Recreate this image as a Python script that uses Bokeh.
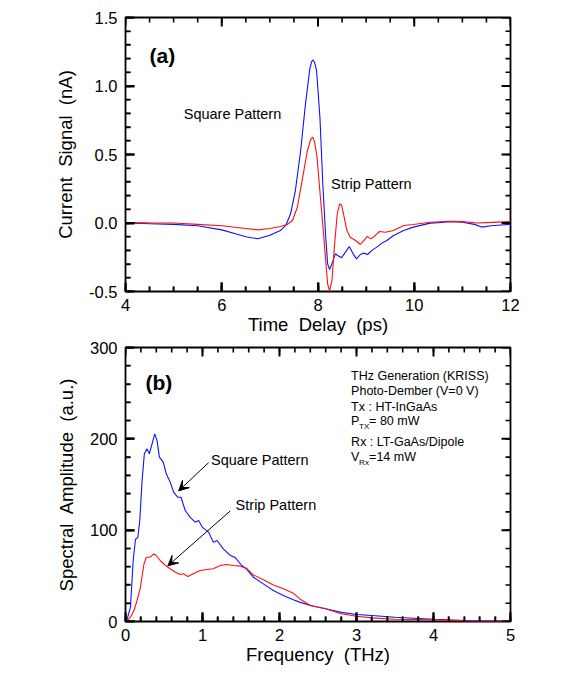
from bokeh.plotting import figure
from bokeh.layouts import column
from bokeh.models import (Range1d, LinearAxis, FixedTicker, Label, Arrow,
                          VeeHead, NumeralTickFormatter)
from bokeh.embed import file_html
from bokeh.resources import INLINE

# ---------------- data: panel (a) ----------------
t_square = [4.0, 4.5, 5.0, 5.5, 6.0, 6.25, 6.5, 6.75, 7.0, 7.22, 7.33, 7.43, 7.53, 7.64, 7.74,
            7.83, 7.87, 7.90, 7.93, 7.97, 8.04, 8.10, 8.16, 8.20, 8.24, 8.29, 8.36, 8.41, 8.49,
            8.57, 8.65, 8.73, 8.80, 8.88, 8.95, 9.03, 9.12, 9.22, 9.33, 9.43, 9.57, 9.78, 9.98,
            10.33, 10.5, 10.75, 11.0, 11.25, 11.4, 11.6, 11.8, 12.0]
i_square = [0.0, -0.005, -0.01, -0.02, -0.05, -0.075, -0.10, -0.115, -0.09, -0.055, -0.018,
            0.067, 0.237, 0.529, 0.87, 1.125, 1.18, 1.19, 1.17, 1.113, 0.772, 0.286, -0.10,
            -0.298, -0.34, -0.298, -0.225, -0.237, -0.254, -0.213, -0.172, -0.225, -0.262, -0.23,
            -0.22, -0.23, -0.20, -0.176, -0.147, -0.128, -0.091, -0.055, -0.030, -0.001, 0.003,
            0.01, 0.005, -0.01, -0.03, -0.02, -0.015, -0.01]
t_strip = [4.0, 4.5, 5.0, 5.5, 6.0, 6.5, 6.75, 7.0, 7.22, 7.36, 7.47, 7.57, 7.67, 7.78, 7.85,
           7.89, 7.93, 7.98, 8.05, 8.11, 8.16, 8.20, 8.24, 8.29, 8.34, 8.40, 8.45, 8.49, 8.53,
           8.60, 8.67, 8.78, 8.88, 8.95, 9.02, 9.10, 9.19, 9.28, 9.40, 9.57, 9.78, 9.98, 10.33,
           10.75, 11.0, 11.3, 11.5, 12.0]
i_strip = [0.003, 0.001, 0.0, -0.01, -0.02, -0.04, -0.05, -0.04, -0.026, -0.011, 0.018, 0.115,
           0.31, 0.529, 0.61, 0.628, 0.59, 0.48, 0.188, -0.055, -0.274, -0.444, -0.498, -0.42,
           -0.176, 0.067, 0.14, 0.13, 0.067, -0.055, -0.104, -0.128, -0.157, -0.128, -0.099,
           -0.116, -0.091, -0.062, -0.067, -0.055, -0.018, -0.011, 0.005, 0.013, 0.01, 0.0,
           0.003, 0.01]

# ---------------- data: panel (b) ----------------
f_square = [0, 0.02, 0.065, 0.10, 0.13, 0.16, 0.185, 0.215, 0.245, 0.28, 0.31, 0.345, 0.38, 0.41,
            0.44, 0.49, 0.53, 0.58, 0.625, 0.68, 0.72, 0.776, 0.84, 0.905, 0.95, 1.0, 1.08, 1.14,
            1.19, 1.27, 1.36, 1.42, 1.51, 1.57, 1.66, 1.79, 1.92, 2.05, 2.18, 2.26, 2.4, 2.6, 2.8,
            3.0, 3.2, 3.5, 4.0, 4.5, 5.0]
a_square = [0, 2, 16, 67, 90, 92, 110, 154, 183.6, 189, 183.6, 194.5, 205.5, 198, 180, 174.5,
            161.7, 152.6, 141.6, 136, 136, 121.5, 114, 108.8, 110.6, 103, 97.8, 86.9, 88.7, 79.6,
            72.3, 70.4, 61.3, 57.7, 48.5, 41.2, 34, 28.5, 23.7, 21.2, 17.5, 14, 10, 7.7, 6.5, 4.7,
            2.5, 0.7, 0.3]
f_strip = [0, 0.02, 0.065, 0.11, 0.15, 0.19, 0.24, 0.27, 0.315, 0.37, 0.40, 0.45, 0.52, 0.58,
           0.65, 0.71, 0.75, 0.81, 0.88, 0.97, 1.06, 1.14, 1.23, 1.31, 1.40, 1.49, 1.57, 1.66,
           1.79, 1.92, 2.05, 2.18, 2.26, 2.4, 2.6, 2.8, 3.0, 3.2, 3.5, 4.0, 4.5, 5.0]
a_strip = [0, 1, 4.7, 12, 23, 35.8, 63, 70.4, 70.4, 74, 72.3, 66.8, 61.3, 57.7, 54, 51.5, 52.2,
           49.3, 52.2, 55.8, 56.9, 57.7, 61.3, 62.4, 61.3, 60.6, 58.4, 51, 45.6, 40, 35.8, 31, 25,
           17.5, 14, 8.4, 5.8, 4, 2.5, 1.8, 0.4, 0]

# tick definitions
a_xticks = [4, 6, 8, 10, 12]
a_xminor = [4 + 0.5 * k for k in range(17)]
a_yticks = [-0.5, 0.0, 0.5, 1.0, 1.5]
a_yminor = [round(-0.5 + 0.1 * k, 2) for k in range(21)]
b_xticks = [0, 1, 2, 3, 4, 5]
b_xminor = [round(0.2 * k, 2) for k in range(26)]
b_yticks = [0, 100, 200, 300]
b_yminor = [20 * k for k in range(16)]

info_lines = ["THz Generation (KRISS)", "Photo-Dember (V=0 V)", "Tx : HT-InGaAs"]

FONT = "Liberation Sans"
BLUE = "#1010ff"
RED = "#ff1010"
FW, FH = 385, 274          # frame size in px
MAJ, MIN = 9, 5            # tick lengths in px


def style_axis(ax, ticks, minor, fmt):
    ax.ticker = FixedTicker(ticks=ticks, minor_ticks=minor)
    ax.major_tick_in = MAJ
    ax.major_tick_out = 0
    ax.minor_tick_in = MIN
    ax.minor_tick_out = 0
    ax.major_tick_line_width = 2
    ax.minor_tick_line_width = 1.6
    ax.major_tick_line_color = "black"
    ax.minor_tick_line_color = "black"
    ax.axis_line_color = None
    ax.major_label_text_font = FONT
    ax.major_label_text_font_size = "16.5px"
    ax.major_label_text_color = "black"
    ax.axis_label_text_font = FONT
    ax.axis_label_text_font_size = "18.5px"
    ax.axis_label_text_font_style = "normal"
    ax.axis_label_text_color = "black"
    if fmt:
        ax.formatter = NumeralTickFormatter(format=fmt)


def add_ticks(p, xr, yr, xt, xm, yt, ym):
    sx = (xr[1] - xr[0]) / FW   # data units per px
    sy = (yr[1] - yr[0]) / FH
    for ticks, ln, lw in ((xt, MAJ, 2.0), (xm, MIN, 1.6)):
        n = len(ticks)
        p.segment(x0=list(ticks), y0=[yr[0]] * n, x1=list(ticks), y1=[yr[0] + ln * sy] * n,
                  line_color="black", line_width=lw)
        p.segment(x0=list(ticks), y0=[yr[1]] * n, x1=list(ticks), y1=[yr[1] - ln * sy] * n,
                  line_color="black", line_width=lw)
    for ticks, ln, lw in ((yt, MAJ, 2.0), (ym, MIN, 1.6)):
        n = len(ticks)
        p.segment(x0=[xr[0]] * n, y0=list(ticks), x1=[xr[0] + ln * sx] * n, y1=list(ticks),
                  line_color="black", line_width=lw)
        p.segment(x0=[xr[1]] * n, y0=list(ticks), x1=[xr[1] - ln * sx] * n, y1=list(ticks),
                  line_color="black", line_width=lw)


def make_fig(xr, yr, height, top_border, bottom_border):
    p = figure(width=568, height=height,
               x_range=Range1d(*xr), y_range=Range1d(*yr),
               output_backend="svg", toolbar_location=None,
               x_axis_location=None, y_axis_location=None,
               min_border_left=125, min_border_right=58,
               min_border_top=top_border, min_border_bottom=bottom_border)
    p.grid.visible = False
    p.outline_line_color = "black"
    p.outline_line_width = 1.8
    return p


# ---------------- panel (a) ----------------
A_X = (4, 12)
A_Y = (-0.5, 1.5)
p1 = make_fig(A_X, A_Y, 337, 17, 46)
xb = LinearAxis(axis_label="Time\u00a0 Delay\u00a0 (ps)")
style_axis(xb, a_xticks, a_xminor, None)
xb.major_label_standoff = 7
xb.axis_label_standoff = 0
yl = LinearAxis(axis_label="Current\u00a0 Signal\u00a0 (nA)")
style_axis(yl, a_yticks, a_yminor, "0.0")
yl.major_label_standoff = 8
yl.axis_label_standoff = 10
p1.add_layout(xb, "below")
p1.add_layout(yl, "left")

p1.line(t_square, i_square, line_color=BLUE, line_width=1.1)
p1.line(t_strip, i_strip, line_color=RED, line_width=1.1)
add_ticks(p1, A_X, A_Y, a_xticks, a_xminor, a_yticks, a_yminor)

p1.add_layout(Label(x=4.5, y=1.22, text="(a)", text_font=FONT, text_font_size="21px",
                    text_font_style="bold", text_baseline="middle", text_color="black"))
p1.add_layout(Label(x=5.21, y=0.795, text="Square Pattern", text_font=FONT,
                    text_font_size="14.5px", text_baseline="middle", text_color="black"))
p1.add_layout(Label(x=8.27, y=0.285, text="Strip Pattern", text_font=FONT,
                    text_font_size="14.5px", text_baseline="middle", text_color="black"))

# ---------------- panel (b) ----------------
B_X = (0, 5)
B_Y = (0, 300)
p2 = make_fig(B_X, B_Y, 339, 10, 55)
xb2 = LinearAxis(axis_label="Frequency\u00a0 (THz)")
style_axis(xb2, b_xticks, b_xminor, None)
xb2.major_label_standoff = 7
xb2.axis_label_standoff = 0
yl2 = LinearAxis(axis_label="Spectral\u00a0 Amplitude\u00a0 (a.u.)")
style_axis(yl2, b_yticks, b_yminor, None)
yl2.major_label_standoff = 8
yl2.axis_label_standoff = 10
p2.add_layout(xb2, "below")
p2.add_layout(yl2, "left")

p2.line(f_square, a_square, line_color=BLUE, line_width=1.1)
p2.line(f_strip, a_strip, line_color=RED, line_width=1.1)
add_ticks(p2, B_X, B_Y, b_xticks, b_xminor, b_yticks, b_yminor)

p2.add_layout(Label(x=0.26, y=262, text="(b)", text_font=FONT, text_font_size="21px",
                    text_font_style="bold", text_baseline="middle", text_color="black"))
p2.add_layout(Label(x=1.11, y=177, text="Square Pattern", text_font=FONT,
                    text_font_size="14.5px", text_baseline="middle", text_color="black"))
p2.add_layout(Label(x=1.43, y=127.6, text="Strip Pattern", text_font=FONT,
                    text_font_size="14.5px", text_baseline="middle", text_color="black"))
p2.add_layout(Arrow(x_start=1.08, y_start=174, x_end=0.69, y_end=143, line_width=1,
                    line_color="black",
                    end=VeeHead(size=10, fill_color="black", line_color="black")))
p2.add_layout(Arrow(x_start=1.36, y_start=121, x_end=0.55, y_end=61, line_width=1,
                    line_color="black",
                    end=VeeHead(size=10, fill_color="black", line_color="black")))

info_y = [269, 252, 235]
for txt, yy in zip(info_lines, info_y):
    p2.add_layout(Label(x=2.93, y=yy, text=txt, text_font=FONT, text_font_size="12.5px",
                        text_baseline="middle", text_color="black"))


def sub_line(x, y, main, sub, rest):
    p2.add_layout(Label(x=x, y=y, text=main, text_font=FONT, text_font_size="12.5px",
                        text_baseline="middle", text_color="black"))
    p2.add_layout(Label(x=x, y=y, x_offset=8, y_offset=-5, text=sub, text_font=FONT,
                        text_font_size="8px", text_baseline="middle", text_color="black"))
    p2.add_layout(Label(x=x, y=y, x_offset=18, text=rest, text_font=FONT,
                        text_font_size="12.5px", text_baseline="middle", text_color="black"))


sub_line(2.93, 219, "P", "TX", " = 80 mW")
p2.add_layout(Label(x=2.93, y=197, text="Rx : LT-GaAs/Dipole", text_font=FONT,
                    text_font_size="12.5px", text_baseline="middle", text_color="black"))
sub_line(2.93, 180, "V", "Rx", "=14 mW")

layout = column(p1, p2, spacing=0)
open("out.html", "w").write(file_html(layout, INLINE))
